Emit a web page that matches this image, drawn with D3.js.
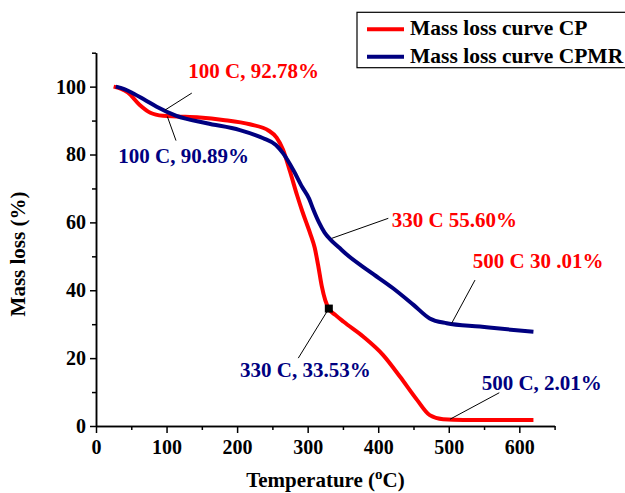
<!DOCTYPE html>
<html>
<head>
<meta charset="utf-8">
<script src="https://cdn.jsdelivr.net/npm/d3@7"></script>
<style>
  body { margin: 0; background: #fff; }
  svg text { font-family: "Liberation Serif", "Times New Roman", serif; font-weight: bold; }
</style>
</head>
<body>
<div id="chart"></div>
<script>
// TGA data
let cpTemp = [25, 35, 45, 62, 77, 95, 115, 147, 180, 218, 245, 256, 265, 275, 285, 292, 298, 304, 310, 315, 320, 325, 330, 340, 351, 379, 407, 431, 455, 473, 492, 521, 570, 620];
let cpMass = [100, 99.4, 98.3, 94.6, 92.3, 91.4, 91.2, 90.9, 90.2, 88.9, 87, 85, 81.5, 75, 68, 63.5, 60, 56.5, 52.5, 47.2, 41.2, 37, 34.6, 32.6, 30.7, 26.3, 20.9, 14.5, 7.7, 3.2, 2.0, 1.8, 1.8, 1.8];

let cpmrTemp = [28, 40, 53, 70, 86, 114, 157, 204, 237, 255, 265, 280, 292, 302, 308, 316, 324, 332, 345, 355, 388, 421, 450, 473, 497, 544, 592, 620];
let cpmrMass = [100, 99.3, 98, 96, 94.1, 91.4, 89.2, 87.2, 84.8, 82.8, 80.4, 75.3, 70.5, 67, 63.8, 60, 57, 55, 52.5, 50.6, 45.5, 40.6, 35.7, 31.7, 30.3, 29.3, 28.3, 27.8];

let seriesNames = ["Mass loss curve CP", "Mass loss curve CPMR"];
let xTicks = [0, 100, 200, 300, 400, 500, 600];
let xMinor = [50, 150, 250, 350, 450, 550, 650];
let yTicks = [0, 20, 40, 60, 80, 100];
let yMinor = [10, 30, 50, 70, 90, 110];

// annotation texts, the point they mark and where the label sits (data units)
let notes = [
  { text: "100 C, 92.78%", c: "red",  from: [97.8, 93.1],  to: [135.8, 98.1], at: [130.8, 102.5] },
  { text: "100 C, 90.89%", c: "blue", from: [101.1, 91.2], to: [113.4, 84.1], at: [31.6, 77.4] },
  { text: "330 C 55.60%",  c: "red",  from: [334.1, 55.3], to: [414.3, 61.2], at: [419.1, 58.7] },
  { text: "500 C 30 .01%", c: "red",  from: [504.2, 30.3], to: [537.2, 43.0], at: [534, 46.5] },
  { text: "330 C, 33.53%", c: "blue", from: [330, 34.6],   to: [286.7, 20.0], at: [204.1, 14.5] },
  { text: "500 C, 2.01%",  c: "blue", from: [501.8, 2.0],  to: [571.6, 9.8],  at: [546.7, 10.6] }
];

let colors = { red: "#ff0000", blue: "#000080" };

let svgWidth = 625;
let svgHeight = 493;
let margin = { top: 52.7, right: 70.4, bottom: 67, left: 96 };
let chartWidth = svgWidth - margin.left - margin.right;
let chartHeight = svgHeight - margin.top - margin.bottom;

let svg = d3.select("#chart")
    .append("svg")
    .attr("width", svgWidth)
    .attr("height", svgHeight);

let chartGroup = svg.append("g")
    .attr("transform", `translate(${margin.left}, ${margin.top})`);

let xScale = d3.scaleLinear().domain([0, 650]).range([0, chartWidth]);
let yScale = d3.scaleLinear().domain([0, 110]).range([chartHeight, 0]);

// axes: major ticks with labels, minor ticks without
function styleAxis(g) {
    g.selectAll("path, line").attr("stroke", "#000").attr("stroke-width", 1.5);
    g.selectAll("text").attr("font-size", "20px").attr("fill", "#000")
        .style("font-family", "'Liberation Serif', 'Times New Roman', serif").style("font-weight", "bold");
}

chartGroup.append("g")
    .attr("transform", `translate(0, ${chartHeight})`)
    .call(d3.axisBottom(xScale).tickValues(xMinor).tickSize(4).tickSizeOuter(0).tickFormat(""))
    .call(styleAxis);
chartGroup.append("g")
    .attr("transform", `translate(0, ${chartHeight})`)
    .call(d3.axisBottom(xScale).tickValues(xTicks).tickSize(7).tickSizeOuter(0).tickPadding(7))
    .call(styleAxis);

chartGroup.append("g")
    .call(d3.axisLeft(yScale).tickValues(yMinor).tickSize(4).tickSizeOuter(0).tickFormat(""))
    .call(styleAxis);
chartGroup.append("g")
    .call(d3.axisLeft(yScale).tickValues(yTicks).tickSize(6).tickSizeOuter(0).tickPadding(4))
    .call(styleAxis);

// curves
let line = d3.line()
    .x(d => xScale(d[0]))
    .y(d => yScale(d[1]))
    .curve(d3.curveMonotoneX);

let cpData = cpTemp.map((t, i) => [t, cpMass[i]]);
let cpmrData = cpmrTemp.map((t, i) => [t, cpmrMass[i]]);

chartGroup.append("path")
    .datum(cpData)
    .attr("d", line)
    .attr("fill", "none")
    .attr("stroke", colors.red)
    .attr("stroke-width", 4);

chartGroup.append("path")
    .datum(cpmrData)
    .attr("d", line)
    .attr("fill", "none")
    .attr("stroke", colors.blue)
    .attr("stroke-width", 4);

// annotations
notes.forEach(function(n) {
    chartGroup.append("line")
        .attr("x1", xScale(n.from[0])).attr("y1", yScale(n.from[1]))
        .attr("x2", xScale(n.to[0])).attr("y2", yScale(n.to[1]))
        .attr("stroke", "#000").attr("stroke-width", 1);
    chartGroup.append("text")
        .attr("x", xScale(n.at[0]))
        .attr("y", yScale(n.at[1]))
        .attr("font-size", "21px")
        .attr("fill", colors[n.c])
        .text(n.text);
});

// black square marker at 330 C on CP curve
chartGroup.append("rect")
    .attr("x", xScale(330) - 4)
    .attr("y", yScale(34.6) - 4)
    .attr("width", 8)
    .attr("height", 8)
    .attr("fill", "#000");

// axis titles
chartGroup.append("text")
    .attr("transform", `translate(${25 - margin.left}, ${254 - margin.top}) rotate(-90)`)
    .attr("text-anchor", "middle")
    .attr("font-size", "21px")
    .text("Mass loss (%)");

let xTitle = chartGroup.append("text")
    .attr("x", 325.5 - margin.left)
    .attr("y", 487 - margin.top)
    .attr("text-anchor", "middle")
    .attr("font-size", "21px");
xTitle.append("tspan").text("Temperature (");
xTitle.append("tspan").attr("font-size", "15px").attr("dy", "-8").text("o");
xTitle.append("tspan").attr("dy", "8").text("C)");

// legend
let legend = svg.append("g");
legend.append("rect")
    .attr("x", 357).attr("y", 12.3)
    .attr("width", 280).attr("height", 55.4)
    .attr("fill", "#fff").attr("stroke", "#000").attr("stroke-width", 1.2);

[colors.red, colors.blue].forEach(function(c, i) {
    legend.append("line")
        .attr("x1", 367).attr("x2", 404)
        .attr("y1", 29.3 + i * 27.4).attr("y2", 29.3 + i * 27.4)
        .attr("stroke", c).attr("stroke-width", 4);
    legend.append("text")
        .attr("x", 410)
        .attr("y", 35 + i * 28.3)
        .attr("font-size", "21.5px")
        .text(seriesNames[i]);
});
</script>
</body>
</html>
